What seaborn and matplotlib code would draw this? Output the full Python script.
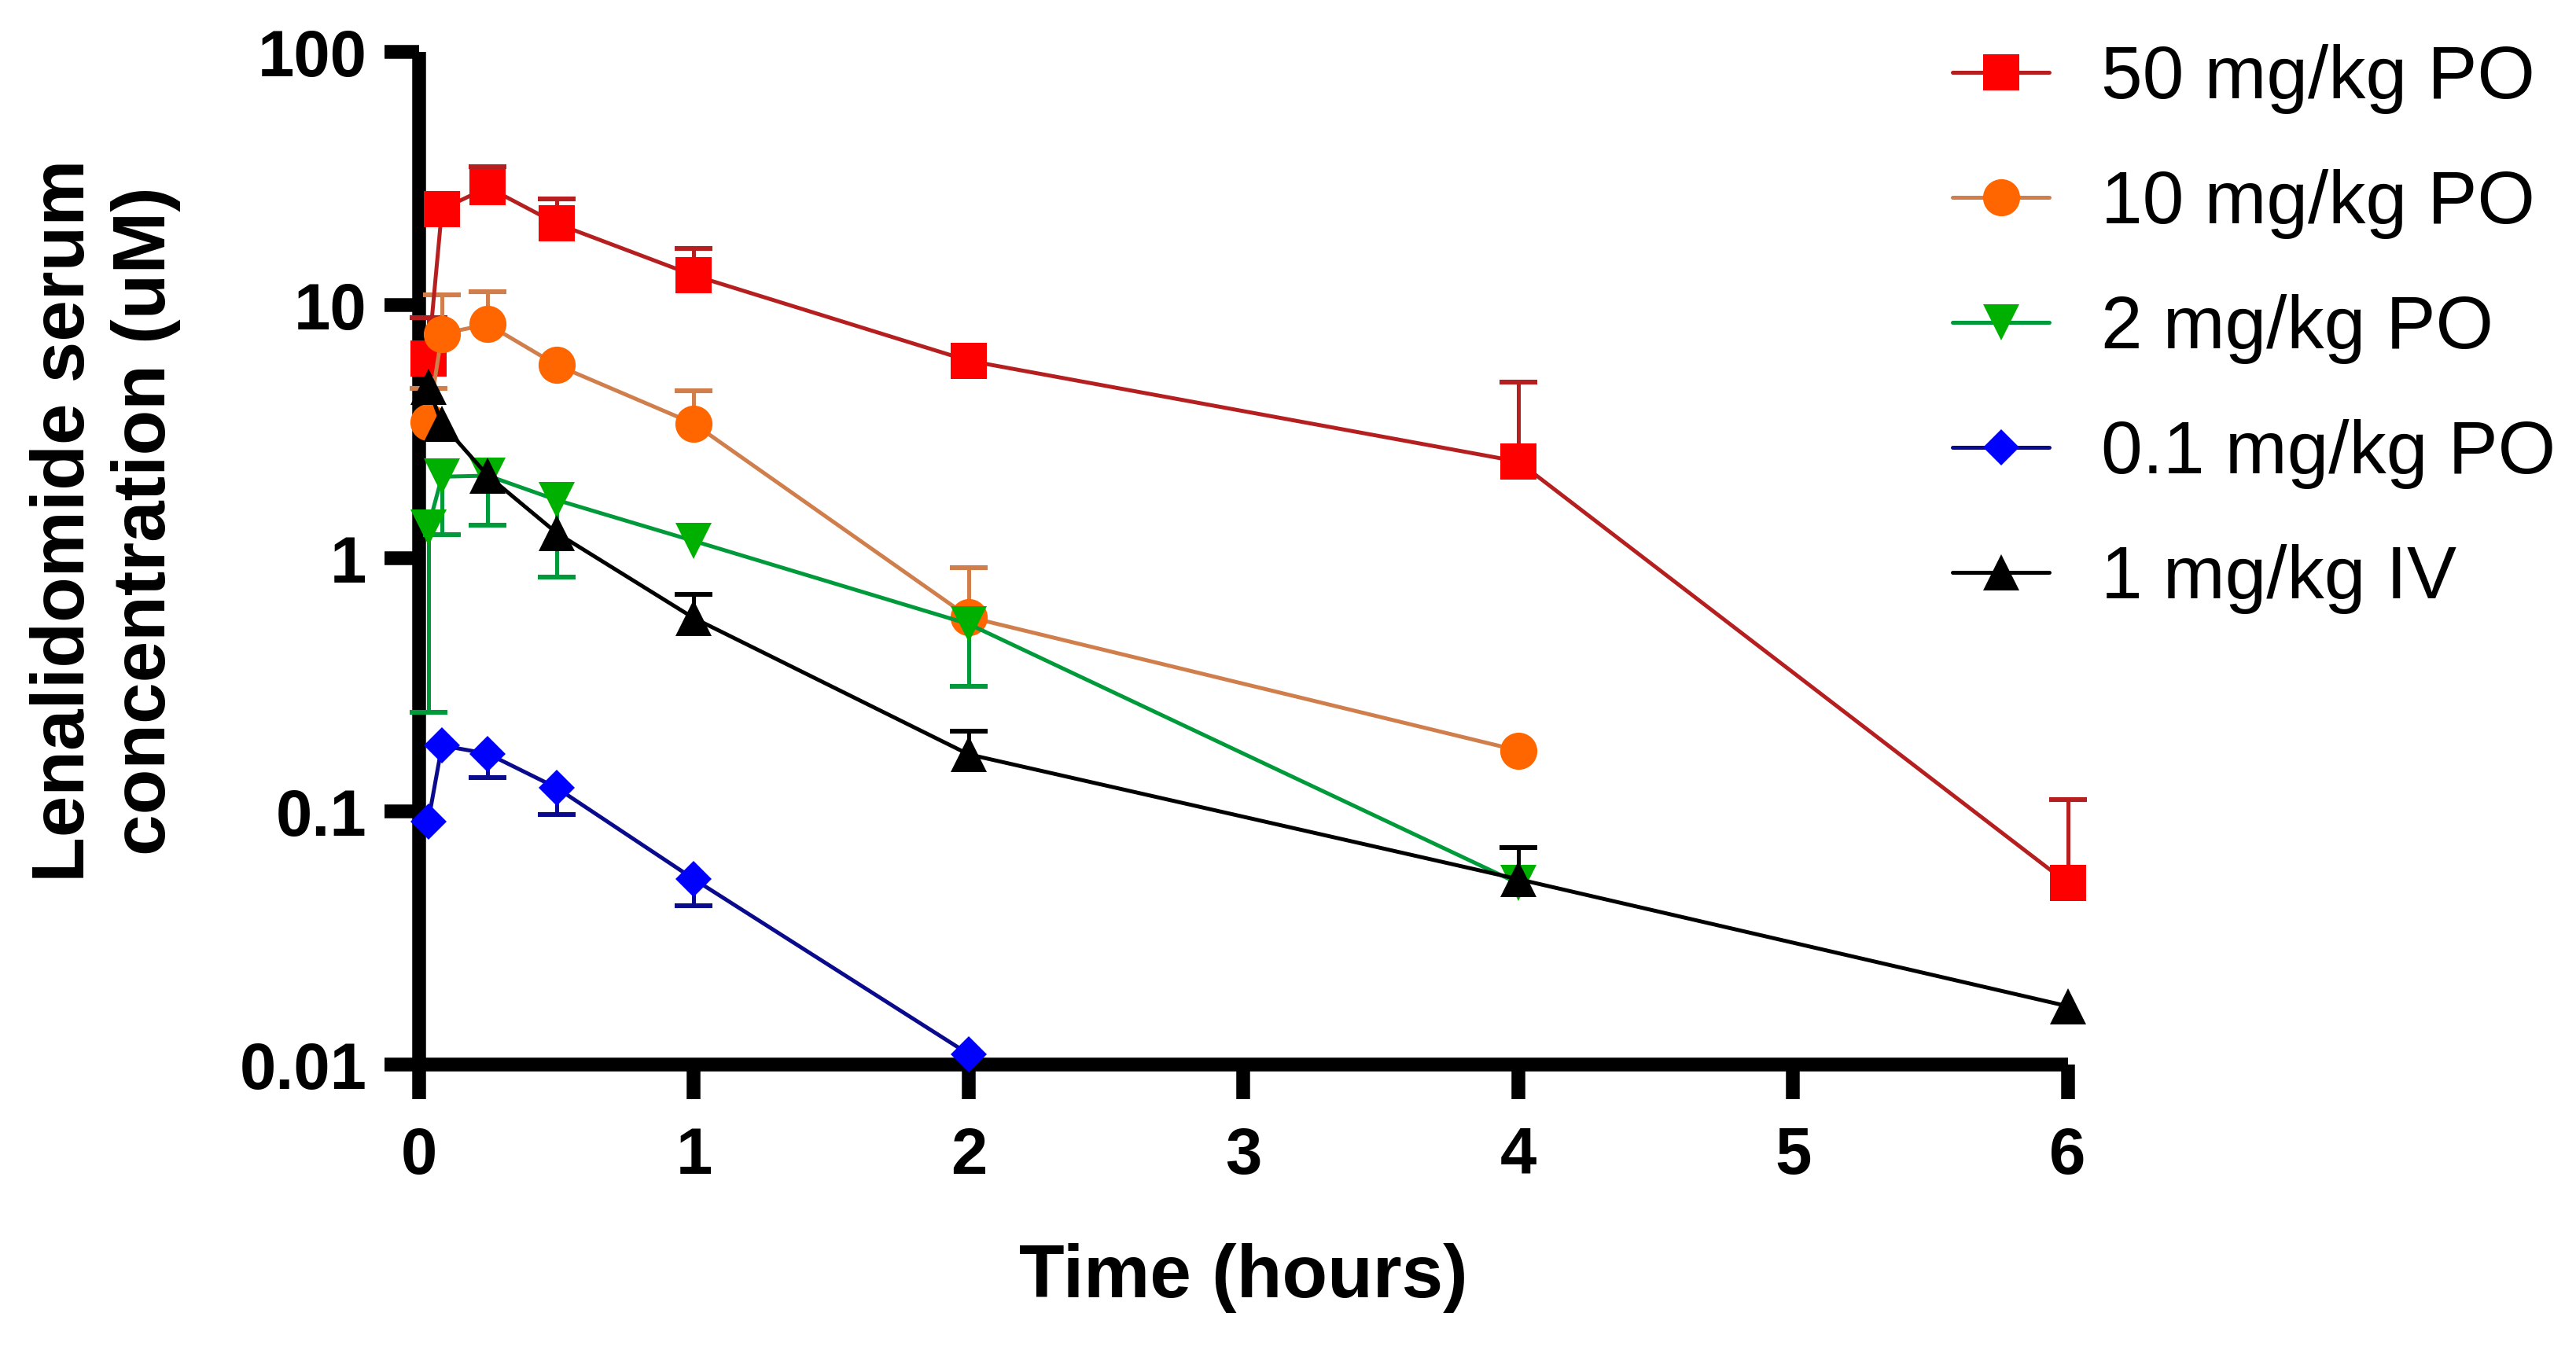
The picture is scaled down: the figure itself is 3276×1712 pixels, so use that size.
import numpy as np
import matplotlib
matplotlib.use("Agg")
import matplotlib.pyplot as plt
import seaborn as sns

# ---------------- data ----------------
labels = ["50 mg/kg PO", "10 mg/kg PO", "2 mg/kg PO", "0.1 mg/kg PO", "1 mg/kg IV"]

t_50 = [0.033, 0.083, 0.25, 0.5, 1, 2, 4, 6]
c_50 = [6.15, 23.9, 29.2, 21.0, 13.1, 6.03, 2.41, 0.052]
err_end_50 = [8.9, np.nan, 35.2, 26.2, 16.8, np.nan, 4.96, 0.111]      # upper error bars

t_10 = [0.033, 0.083, 0.25, 0.5, 1, 2, 4]
c_10 = [3.45, 7.7, 8.4, 5.8, 3.4, 0.586, 0.174]
err_end_10 = [4.7, 11.0, 11.3, np.nan, 4.6, 0.92, np.nan]              # upper error bars

t_2 = [0.033, 0.083, 0.25, 0.5, 1, 2, 4]
c_2 = [1.32, 2.1, 2.12, 1.70, 1.17, 0.55, 0.052]
err_end_2 = [0.247, 1.24, 1.35, 0.84, np.nan, 0.312, np.nan]          # lower error bars

t_01 = [0.033, 0.083, 0.25, 0.5, 1, 2]
c_01 = [0.091, 0.182, 0.169, 0.124, 0.054, 0.011]
err_end_01 = [np.nan, np.nan, 0.136, 0.097, 0.0425, np.nan]           # lower error bars

t_iv = [0.033, 0.083, 0.25, 0.5, 1, 2, 4, 6]
c_iv = [4.76, 3.4, 2.12, 1.26, 0.58, 0.168, 0.054, 0.017]
err_end_iv = [np.nan, np.nan, np.nan, np.nan, 0.72, 0.208, 0.072, np.nan]  # upper error bars

x_ticks = [0, 1, 2, 3, 4, 5, 6]
y_ticks = [0.01, 0.1, 1, 10, 100]
y_tick_labels = ["0.01", "0.1", "1", "10", "100"]

# ---------------- style ----------------
series = [
    (t_50, c_50, err_end_50, "s", "#FF0000", "#B51F1F", 16.5),
    (t_10, c_10, err_end_10, "o", "#FF6600", "#CF7E4C", 17),
    (t_2, c_2, err_end_2, "v", "#00B000", "#009A3A", 16.5),
    (t_01, c_01, err_end_01, "D", "#0000FF", "#0A0A8C", 11.5),
    (t_iv, c_iv, err_end_iv, "^", "#000000", "#000000", 16.5),
]

sns.set_theme(style="ticks")
plt.rcParams["font.family"] = ["Liberation Sans", "DejaVu Sans"]
plt.rcParams["text.color"] = "black"
plt.rcParams["axes.labelcolor"] = "black"

fig = plt.figure(figsize=(16.38, 8.56), dpi=200)
ax = fig.add_axes([0.1627, 0.2091, 0.640, 0.7523])

for (t, c, e, m, mc, lc, ms), lab in zip(series, labels):
    t = np.asarray(t, float)
    c = np.asarray(c, float)
    e = np.asarray(e, float)
    ok = ~np.isnan(e)
    ax.vlines(t[ok], c[ok], e[ok], color=lc, linewidth=1.8, zorder=2, clip_on=False)
    ax.plot(t[ok], e[ok], linestyle="none", marker="_", markersize=17,
            markeredgewidth=2.2, color=lc, zorder=2, clip_on=False)
    sns.lineplot(x=t, y=c, ax=ax, color=lc, linewidth=1.8, marker=m,
                 markersize=ms, markerfacecolor=mc, markeredgecolor=mc,
                 markeredgewidth=0, errorbar=None, label=lab, zorder=3,
                 clip_on=False)

ax.set_yscale("log")
ax.set_xlim(0, 6)
ax.set_ylim(0.01, 100)
ax.set_xticks(x_ticks)
ax.set_xticklabels([str(v) for v in x_ticks])
ax.set_yticks(y_ticks)
ax.set_yticklabels(y_tick_labels)
ax.yaxis.set_minor_locator(matplotlib.ticker.NullLocator())
ax.set_xlabel("")
ax.set_ylabel("")

for side in ["top", "right"]:
    ax.spines[side].set_visible(False)
for side in ["left", "bottom"]:
    ax.spines[side].set_linewidth(6.3)
    ax.spines[side].set_color("black")
    ax.spines[side].set_capstyle("butt")
    ax.spines[side].set_zorder(1)

ax.tick_params(axis="both", which="major", direction="out", length=16, width=6.3,
               color="black", labelsize=30, labelcolor="black")
ax.tick_params(axis="x", pad=12)
ax.tick_params(axis="y", pad=8)
for lbl in ax.get_xticklabels() + ax.get_yticklabels():
    lbl.set_fontweight("bold")

fig.text(0.4826, 0.0508, "Time (hours)", ha="center", va="center",
         fontsize=34, fontweight="bold", color="black")
fig.text(0.041, 0.613, "Lenalidomide serum\nconcentration (uM)", ha="center",
         va="center", rotation=90, fontsize=34, fontweight="bold",
         multialignment="center", linespacing=1.2, color="black")

leg = ax.legend(loc="upper left", bbox_to_anchor=(0.758, 0.967),
                bbox_transform=fig.transFigure, frameon=False, fontsize=34,
                handlelength=1.3, handletextpad=0.7, labelspacing=0.74,
                borderpad=0, borderaxespad=0)
for txt in leg.get_texts():
    txt.set_color("black")

fig.savefig("out.png", dpi=200)
